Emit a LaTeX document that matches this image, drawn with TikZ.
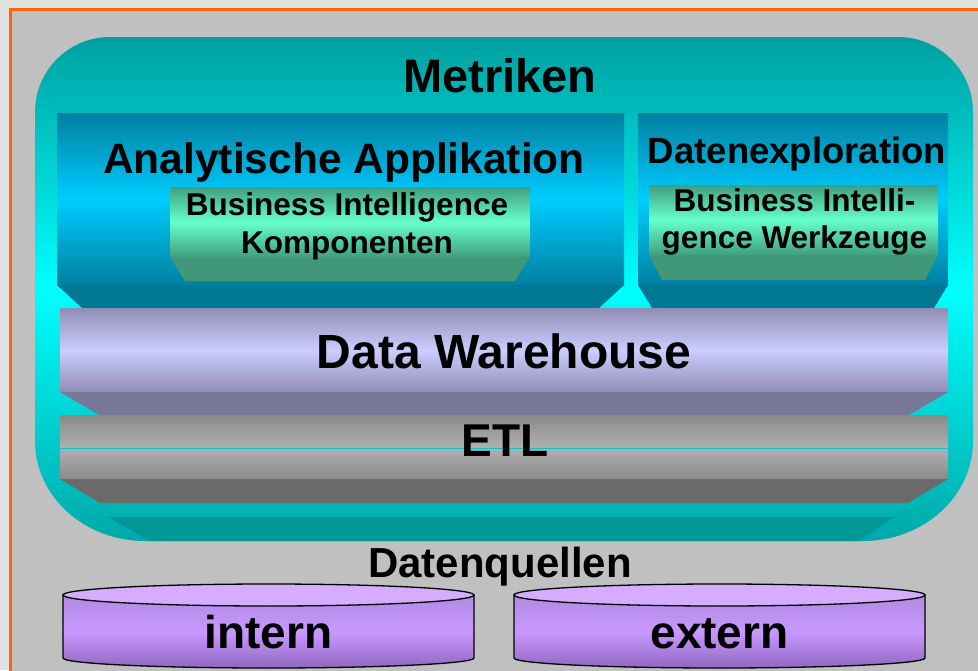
\documentclass[tikz,border=0pt]{standalone}
\usepackage{fontspec}
\setmainfont{Liberation Sans}
\usepackage{tikz}
\usetikzlibrary{positioning}
\definecolor{pagegray}{HTML}{E0E0E0}
\definecolor{slidegray}{HTML}{C0C0C0}
\definecolor{frameorange}{HTML}{FF6600}
\definecolor{tealtop}{HTML}{00A0A0}
\definecolor{tealmid}{HTML}{00FFFF}
\definecolor{tealbot}{HTML}{00A8A8}
\definecolor{tealdark}{HTML}{009797}
\definecolor{appedge}{HTML}{0080A0}
\definecolor{appmid}{HTML}{00CCFF}
\definecolor{appbev}{HTML}{007893}
\definecolor{biedge}{HTML}{409F80}
\definecolor{bimid}{HTML}{66FFCC}
\definecolor{bibev}{HTML}{409878}
\definecolor{dwedge}{HTML}{8F8FB5}
\definecolor{dwmid}{HTML}{CCCCFF}
\definecolor{dwbev}{HTML}{787898}
\definecolor{etledge}{HTML}{8A8A8A}
\definecolor{etlmid}{HTML}{B0B0B0}
\definecolor{etlbev}{HTML}{6A6A6A}
\definecolor{etlline}{HTML}{00C8C8}
\definecolor{cyltop}{HTML}{B08AE2}
\definecolor{cylmid}{HTML}{C898FF}
\definecolor{cylbot}{HTML}{9068C0}
\definecolor{cyllid}{HTML}{D6ACFF}
\newcommand{\txt}[2]{\fontsize{#1}{#2}\selectfont\bfseries}
\newcommand{\drawbevel}[4]{%
  \fill[#2] (#1.south west) -- (#1.south east)
    -- ([xshift=-#3pt,yshift=-#4pt]#1.south east)
    -- ([xshift=#3pt,yshift=-#4pt]#1.south west) -- cycle;}
\tikzset{
  layer/.style={rectangle, inner sep=0pt, outer sep=0pt},
  appbox/.style={layer, top color=appedge, bottom color=appedge, middle color=appmid},
  bibox/.style={layer, top color=biedge, bottom color=biedge, middle color=bimid},
  dwbox/.style={layer, top color=dwedge, bottom color=dwedge, middle color=dwmid},
  etlupper/.style={layer, top color=etledge, bottom color=etlmid},
  etllower/.style={layer, top color=etlmid, bottom color=etledge},
  lbl/.style={anchor=base, inner sep=0pt, text=black, align=center},
  cylline/.style={draw=black, line width=1.3pt},
}
\begin{document}
\begin{tikzpicture}[x=1pt, y=-1pt]
  \useasboundingbox (0,0) rectangle (978,670);
  \clip (0,0) rectangle (978,670);
  \fill[pagegray] (0,0) rectangle (978,670);
  \filldraw[fill=slidegray, draw=frameorange, line width=3pt] (10.5,9) rectangle (995,690);

  % Metriken frame
  \shade[top color=tealtop, bottom color=tealbot, middle color=tealmid]
    (35,112) arc[start angle=180, end angle=90, radius=75pt] -- (898,37)
    arc[start angle=90, end angle=0, radius=75pt] -- (973,441)
    arc[start angle=0, end angle=-90, x radius=110pt, y radius=100pt] -- (145,541)
    arc[start angle=270, end angle=180, x radius=110pt, y radius=100pt] -- cycle;
  \fill[tealdark] (108,517) -- (895,517) -- (858,541) -- (150,541) -- cycle;

  \node[appbox, minimum width=567pt, minimum height=172pt] (app) at (340.5,199) {};
  \drawbevel{app}{appbev}{25}{23}
  \node[bibox, minimum width=360pt, minimum height=70pt] (bicomp) at (350,222) {};
  \drawbevel{bicomp}{bibev}{15}{24}
  \node[appbox, minimum width=310pt, minimum height=172pt] (explore) at (793,199) {};
  \drawbevel{explore}{appbev}{14}{23}
  \node[bibox, minimum width=289pt, minimum height=70pt] (bitools) at (793.5,220) {};
  \drawbevel{bitools}{bibev}{13}{25}

  \node[dwbox, minimum width=888pt, minimum height=84pt] (dw) at (504,350) {};
  \drawbevel{dw}{dwbev}{39}{23}
  \node[etlupper, minimum width=888pt, minimum height=33pt] (etlup) at (504,431.5) {};
  \node[etllower, minimum width=888pt, minimum height=31pt] (etllow) at (504,463.5) {};
  \draw[etlline, line width=1pt] (etlup.south west) -- (etlup.south east);
  \drawbevel{etllow}{etlbev}{40}{24}

  \node[lbl, font=\txt{47}{56}] (metriken) at (500,92) {Metriken};
  \node[lbl, font=\txt{42.5}{50}] (apptitle) at (344,173) {Analytische Applikation};
  \node[lbl, font=\txt{31.5}{38}] (bicomptext) at (347,253) {Business Intelligence\\Komponenten};
  \node[lbl, font=\txt{36.5}{44}] (exploretitle) at (797,163) {Datenexploration};
  \node[lbl, font=\txt{31.5}{37}] (bitoolstext) at (794.5,248) {Business Intelli-\\gence Werkzeuge};
  \node[lbl, font=\txt{48}{56}] (dwtext) at (504,368) {Data Warehouse};
  \node[lbl, font=\txt{46}{55}] (etltext) at (505,456) {ETL};
  \node[lbl, font=\txt{42}{50}] (sources) at (500,577) {Datenquellen};

  % Datenquellen
  \foreach \cx/\src in {268.5/intern, 719.5/extern}{
    \shade[top color=cyltop, bottom color=cylbot, middle color=cylmid, cylline]
      (\cx-205.5,595) -- (\cx-205.5,658)
      arc[start angle=180, end angle=360, x radius=205.5pt, y radius=10pt]
      -- (\cx+205.5,595) -- cycle;
    \filldraw[fill=cyllid, cylline] (\cx,595) ellipse[x radius=205.5pt, y radius=11pt];
    \node[lbl, font=\txt{46}{55}] (\src) at (\cx,648) {\src};
  }
\end{tikzpicture}
\end{document}
